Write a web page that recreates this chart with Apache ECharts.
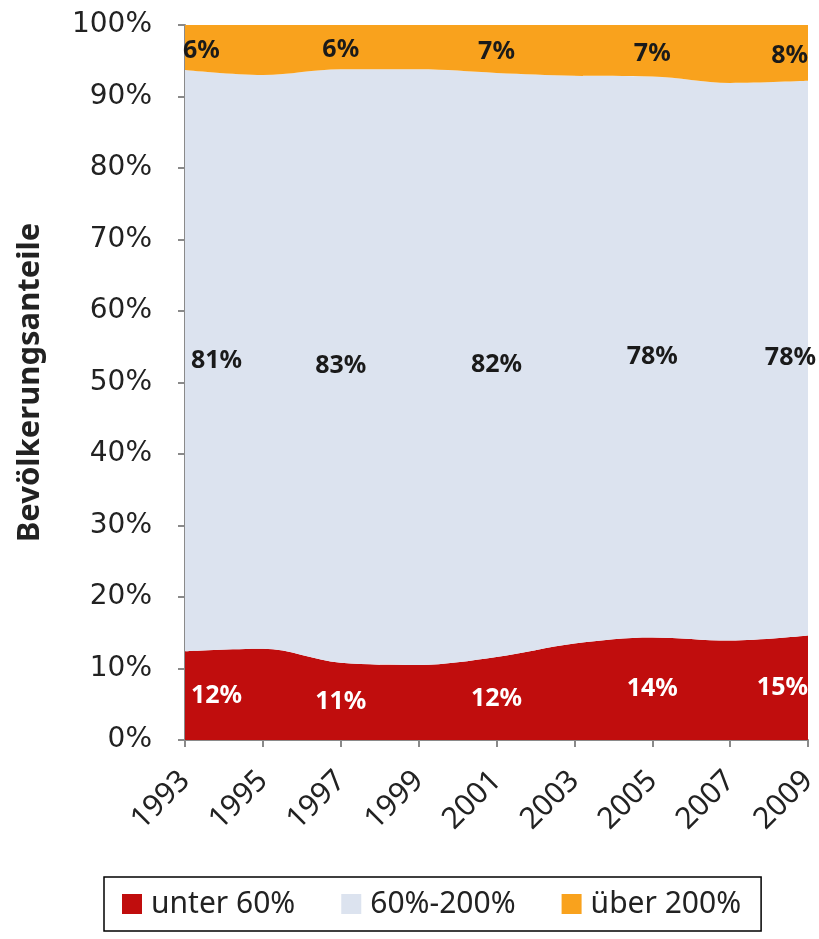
<!DOCTYPE html>
<html><head><meta charset="utf-8">
<script src="https://cdn.jsdelivr.net/npm/echarts@6/dist/echarts.min.js"></script>
<style>html,body{margin:0;padding:0;background:#fff}#c{width:819px;height:939px}</style>
</head><body><div id="c"></div>
<script>
const years = ['1993','1995','1997','1999','2001','2003','2005','2007','2009'];
const unter60 = [12.4, 12.75, 10.8, 10.5, 11.6, 13.5, 14.35, 13.9, 14.6];
const mitte = [81.3, 80.25, 83.0, 83.3, 81.7, 79.4, 78.45, 78.0, 77.6];
const ueber200 = [6.3, 7.0, 6.2, 6.2, 6.7, 7.1, 7.2, 8.1, 7.8];
const yTicks = [0,10,20,30,40,50,60,70,80,90,100];
const names = ['unter 60%', '60%-200%', 'über 200%'];
const colors = ['#C00D0D', '#DCE3EF', '#F9A21D'];
const series = [unter60, mitte, ueber200];

const labelFont = 'Noto Sans';
function labelSeries(k){
  const data = [];
  for (let i = 0; i < years.length; i += 2) {
    let base = 0;
    for (let j = 0; j < k; j++) base += series[j][i];
    const v = series[k][i];
    const item = {value: [i, base + v/2, v]};
    if (i === 0) item.label = {align: 'left', offset: [k===2?-2:6, k===2?3:0]};
    if (i === years.length-1) item.label = {align: 'right', offset: [k===1?8:0, k===2?3:0]};
    if (k === 2 && i !== 0 && i !== years.length-1) item.label = {offset: [0, 3]};
    data.push(item);
  }
  return {
    type: 'scatter', symbolSize: 0, silent: true, z: 5,
    itemStyle: {opacity: 1},
    data: data,
    label: {show: true, position: 'inside', fontFamily: labelFont, fontWeight: 'bold', fontSize: 25,
      color: k===0 ? '#ffffff' : '#1a1a1a', opacity: 1,
      formatter: p => Math.round(p.value[2]) + '%'}
  };
}

const chart = echarts.init(document.getElementById('c'), null, {renderer: 'canvas'});
chart.setOption({
  backgroundColor: '#fff',
  animation: false,
  grid: {left: 185, right: 11, top: 25, bottom: 199, containLabel: false, outerBoundsMode: 'none'},
  legend: {
    data: names, left: 104, top: 877,
    borderColor: '#000', borderWidth: 1.5, padding: [12, 20, 12, 18],
    itemWidth: 20, itemHeight: 20, itemGap: 46, icon: 'rect',
    textStyle: {fontFamily: 'Noto Sans', fontSize: 30, color: '#222', padding: [0,0,0,4]}
  },
  xAxis: {
    type: 'category', data: years, boundaryGap: false,
    axisLine: {lineStyle: {color: '#8a8a8a', width: 2}},
    axisTick: {show: true, length: 7, lineStyle: {color: '#8a8a8a', width: 2}},
    axisLabel: {rotate: 45, margin: 36, fontFamily: 'Noto Sans', fontSize: 30, color: '#222'},
    splitLine: {show: false}
  },
  yAxis: {
    type: 'value', min: 0, max: 100, interval: 10,
    name: 'Bevölkerungsanteile', nameLocation: 'middle', nameGap: 139, nameRotate: 90,
    nameTextStyle: {fontFamily: 'Noto Sans', fontWeight: 'bold', fontSize: 31, color: '#222'},
    axisLine: {show: true, lineStyle: {color: '#8a8a8a', width: 2}},
    axisTick: {show: true, length: 7, lineStyle: {color: '#8a8a8a', width: 2}},
    axisLabel: {margin: 33, fontFamily: 'DejaVu Sans', fontSize: 28, color: '#222',
      formatter: v => yTicks.includes(v) ? v + '%' : ''},
    splitLine: {show: false}
  },
  series: [
    ...series.map((d, k) => ({
      name: names[k], type: 'line', stack: 'total', data: d, smooth: 0.35,
      showSymbol: false, symbol: 'none', silent: true,
      lineStyle: {width: 0}, itemStyle: {color: colors[k]},
      areaStyle: {color: colors[k], opacity: 1}
    })),
    labelSeries(0), labelSeries(1), labelSeries(2)
  ]
});
</script></body></html>
